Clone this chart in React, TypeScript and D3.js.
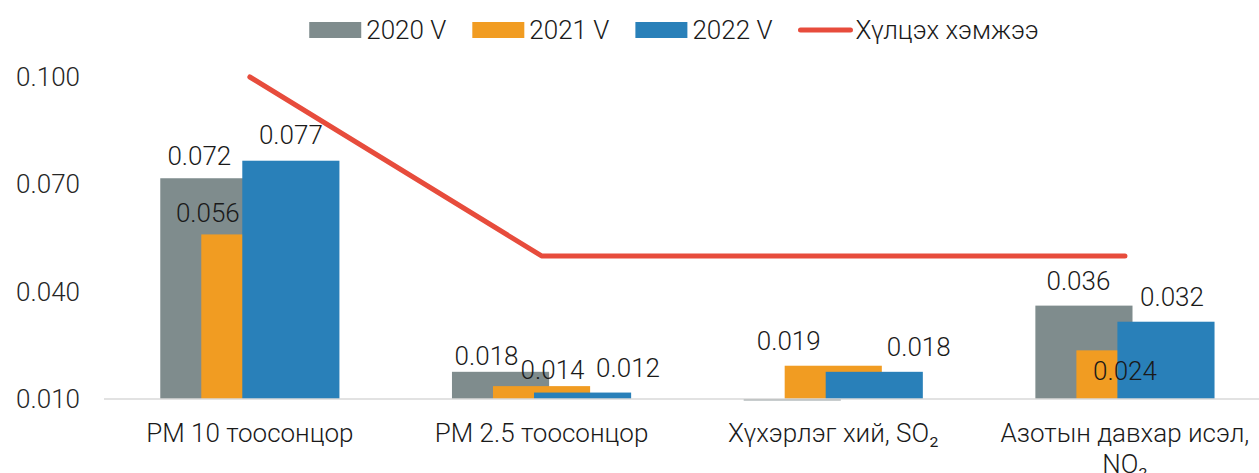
import React, { useEffect, useRef } from 'react';
import * as d3 from 'd3';

const categories = ['PM 10 тоосонцор', 'PM 2.5 тоосонцор', 'Хүхэрлэг хий, SO₂', 'Азотын давхар исэл, NO₂'];
const seriesNames = ['2020 V', '2021 V', '2022 V'];
const values2020 = [0.0717, 0.0176, 0.0096, 0.0361];
const values2021 = [0.0560, 0.0136, 0.0193, 0.0236];
const values2022 = [0.0766, 0.0118, 0.0176, 0.0316];
const limitName = 'Хүлцэх хэмжээ';
const limitValues = [0.100, 0.050, 0.050, 0.050];
const yTicks = [0.010, 0.040, 0.070, 0.100];

const colors = ['#7f8c8d', '#f19c22', '#2980b9'];
const lineColor = '#e74c3c';

// manual label nudges (dx, dy) like the hand-placed labels of the original
const labelNudge: [number, number][][] = [
  [[-9.5, 3], [-14, 9.3], [0, 0], [-5.5, 0]],
  [[-42, 3.4], [11, 8.6], [-44.5, 0], [0, 46]],
  [[0, -1], [45.5, 0], [44.5, 0], [6, 0]],
];

const W = 1259;
const H = 473;

export default function App() {
  const svgRef = useRef<SVGSVGElement>(null);

  useEffect(() => {
    if (!svgRef.current) return;
    const font = 'Roboto, "Noto Sans", sans-serif';
    const svg = d3.select(svgRef.current);
    svg.selectAll('*').remove();

    const x = d3.scaleBand<string>().domain(categories).range([104, 104 + 4 * 291.7]);
    const y = d3.scaleLinear().domain([0.010, 0.100]).range([399, 77]);

    const bw = x.bandwidth();
    const barW = bw * 0.333;
    const step = bw * 0.1406;
    const groupW = barW + 2 * step;

    const allSeries = [values2020, values2021, values2022];

    // y tick labels
    svg.append('g')
      .selectAll('text')
      .data(yTicks)
      .enter()
      .append('text')
      .attr('x', 80)
      .attr('y', d => y(d))
      .attr('dy', '0.35em')
      .attr('text-anchor', 'end')
      .style('font-family', font)
      .style('font-weight', 300)
      .style('font-size', '26px')
      .style('fill', '#262626')
      .text(d => d3.format('.3f')(d));

    // bars
    allSeries.forEach((vals, si) => {
      svg.append('g')
        .selectAll('rect')
        .data(vals)
        .enter()
        .append('rect')
        .attr('x', (d, i) => (x(categories[i]) || 0) + bw / 2 - groupW / 2 + si * step)
        .attr('y', d => Math.min(y(d), y(0.010)))
        .attr('width', barW)
        .attr('height', d => Math.abs(y(0.010) - y(d)))
        .style('fill', colors[si]);
    });

    // x axis line
    svg.append('line')
      .attr('x1', 104)
      .attr('x2', W)
      .attr('y1', y(0.010))
      .attr('y2', y(0.010))
      .style('stroke', '#d9d9d9')
      .style('stroke-width', 1.5);

    // limit line
    const line = d3.line<number>()
      .x((d, i) => (x(categories[i]) || 0) + bw / 2)
      .y(d => y(d));
    svg.append('path')
      .datum(limitValues)
      .attr('d', line)
      .style('fill', 'none')
      .style('stroke', lineColor)
      .style('stroke-width', 5)
      .style('stroke-linecap', 'round')
      .style('stroke-linejoin', 'round');

    // value labels
    allSeries.forEach((vals, si) => {
      svg.append('g')
        .selectAll('text')
        .data(vals)
        .enter()
        .filter(d => d >= 0.010)
        .append('text')
        .attr('x', (d, i) => (x(categories[vals.indexOf(d)]) || 0) + bw / 2 - groupW / 2 + si * step + barW / 2 + labelNudge[si][vals.indexOf(d)][0])
        .attr('y', d => y(d) - 16 + labelNudge[si][vals.indexOf(d)][1])
        .attr('text-anchor', 'middle')
        .style('font-family', font)
        .style('font-weight', 300)
        .style('font-size', '26px')
        .style('fill', '#1a1a1a')
        .text(d => d3.format('.3f')(d));
    });

    // category labels
    categories.forEach(c => {
      const cx = (x(c) || 0) + bw / 2;
      const t = svg.append('text')
        .attr('x', cx)
        .attr('y', 442)
        .attr('text-anchor', 'middle')
        .style('font-family', font)
        .style('font-weight', 300)
        .style('font-size', '26px')
        .style('fill', '#1a1a1a');
      if (c.length > 20) {
        const parts = c.split(', ');
        t.append('tspan').attr('x', cx).text(parts[0] + ',');
        t.append('tspan').attr('x', cx).attr('dy', 31).text(parts[1]);
      } else {
        t.text(c);
      }
    });

    // legend
    const legend = svg.append('g');
    let lx = 0;
    const items = [...seriesNames.map((n, i) => ({ name: n, color: colors[i], type: 'rect' })),
      { name: limitName, color: lineColor, type: 'line' }];
    items.forEach(it => {
      const g = legend.append('g').attr('transform', `translate(${lx},0)`);
      if (it.type === 'rect') {
        g.append('rect').attr('x', 0).attr('y', 22).attr('width', 52).attr('height', 16).style('fill', it.color);
      } else {
        g.append('line').attr('x1', 2).attr('x2', 52).attr('y1', 30).attr('y2', 30)
          .style('stroke', it.color).style('stroke-width', 5).style('stroke-linecap', 'round');
      }
      const t = g.append('text')
        .attr('x', 57)
        .attr('y', 39)
        .style('font-family', font)
        .style('font-weight', 300)
        .style('font-size', '26px')
        .style('fill', '#1a1a1a')
        .text(it.name);
      const tw = (t.node() as SVGTextElement).getComputedTextLength();
      lx += 57 + tw + 26;
    });
    const totalW = lx - 26;
    legend.attr('transform', `translate(${674 - totalW / 2},0)`);
  }, []);

  return (
    <div style={{ position: 'absolute', left: 0, top: 0 }}>
      <svg ref={svgRef} width={W} height={H} style={{ display: 'block', background: '#fff' }}></svg>
    </div>
  );
}
